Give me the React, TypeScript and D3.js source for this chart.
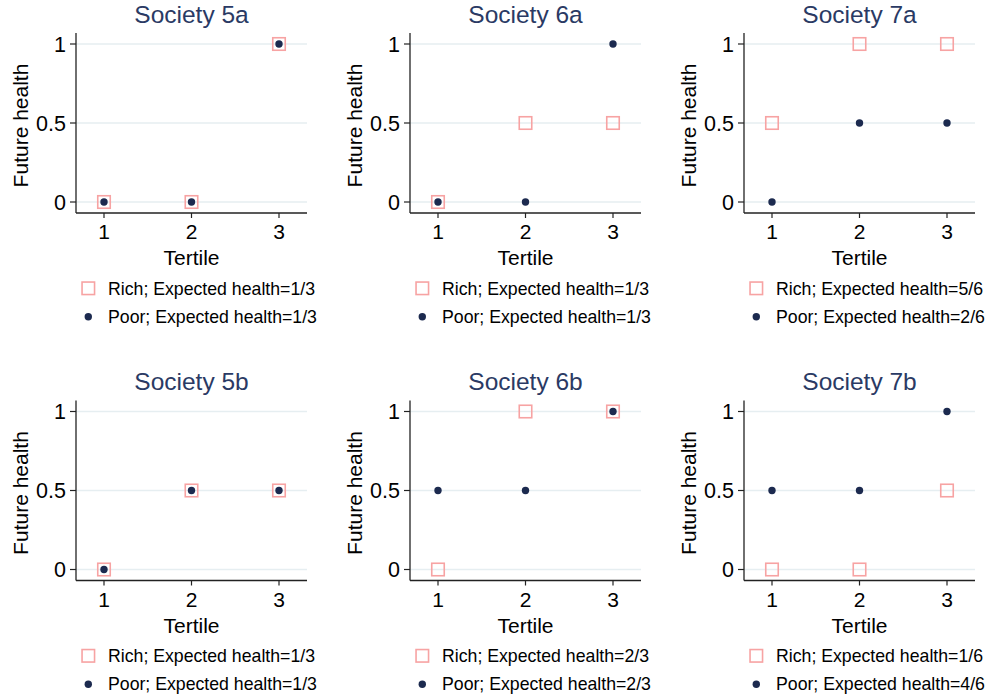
import React from "react";
import * as d3 from "d3";

const tertiles = [1, 2, 3];
const yTicks = [0, 0.5, 1];
const panelTitles = ["Society 5a", "Society 6a", "Society 7a", "Society 5b", "Society 6b", "Society 7b"];
const richValues = [
  [0, 0, 1],
  [0, 0.5, 0.5],
  [0.5, 1, 1],
  [0, 0.5, 0.5],
  [0, 1, 1],
  [0, 0, 0.5],
];
const poorValues = [
  [0, 0, 1],
  [0, 0, 1],
  [0, 0.5, 0.5],
  [0, 0.5, 0.5],
  [0.5, 0.5, 1],
  [0.5, 0.5, 1],
];
const richExpected = ["1/3", "1/3", "5/6", "1/3", "2/3", "1/6"];
const poorExpected = ["1/3", "1/3", "2/6", "1/3", "2/3", "4/6"];

const FONT = "'Liberation Sans', Arial, Helvetica, sans-serif";
const NAVY = "#1c2a4f";
const TITLE = "#2a3a64";
const PINK = "#f7a3a3";
const GRID = "#e6eef1";

const PW = 334;
const PH = 367.5;
const PL = 76;
const PR = 307;
const PT = 33;
const PB = 213;

const x = d3.scaleLinear().domain([0.68, 3.32]).range([PL, PR]);
const y = d3.scaleLinear().domain([-0.0696, 1.0696]).range([PB, PT]);

function Panel({ i }: { i: number }) {
  const col = i % 3;
  const row = Math.floor(i / 3);
  const tx = col * PW;
  const ty = row * PH;
  const sq = 12.5;
  const r = 3.7;
  return (
    <g transform={`translate(${tx},${ty})`} fontFamily={FONT}>
      <text x={(PL + PR) / 2} y={22.5} textAnchor="middle" fontSize={24.5} fill={TITLE}>
        {panelTitles[i]}
      </text>
      {yTicks.map((t) => (
        <line key={"g" + t} x1={PL} x2={PR} y1={y(t)} y2={y(t)} stroke={GRID} strokeWidth={1.3} />
      ))}
      <line x1={PL} x2={PL} y1={PT} y2={PB} stroke="#222" strokeWidth={1.3} />
      <line x1={PL} x2={PR} y1={PB} y2={PB} stroke="#222" strokeWidth={1.3} />
      {yTicks.map((t) => (
        <g key={"y" + t}>
          <line x1={PL - 6} x2={PL} y1={y(t)} y2={y(t)} stroke="#222" strokeWidth={1.2} />
          <text x={PL - 10} y={y(t)} dy="0.36em" textAnchor="end" fontSize={21.5} fill="#000">
            {d3.format("")(t)}
          </text>
        </g>
      ))}
      {tertiles.map((t) => (
        <g key={"x" + t}>
          <line x1={x(t)} x2={x(t)} y1={PB} y2={PB + 5} stroke="#222" strokeWidth={1.2} />
          <text x={x(t)} y={239} textAnchor="middle" fontSize={21} fill="#000">
            {t}
          </text>
        </g>
      ))}
      <text x={(PL + PR) / 2} y={265} textAnchor="middle" fontSize={21} fill="#000">
        Tertile
      </text>
      <text
        transform={`translate(28.3,${(PT + PB) / 2 + 2.5}) rotate(-90)`}
        textAnchor="middle"
        fontSize={21}
        fill="#000"
      >
        Future health
      </text>
      {richValues[i].map((v, k) => (
        <rect
          key={"r" + k}
          x={x(tertiles[k]) - sq / 2}
          y={y(v) - sq / 2}
          width={sq}
          height={sq}
          fill="none"
          stroke={PINK}
          strokeWidth={1.6}
        />
      ))}
      {poorValues[i].map((v, k) => (
        <circle key={"p" + k} cx={x(tertiles[k])} cy={y(v)} r={r} fill={NAVY} />
      ))}
      <rect x={88.3 - sq / 2} y={288.3 - sq / 2} width={sq} height={sq} fill="none" stroke={PINK} strokeWidth={1.6} />
      <text x={108} y={294.5} fontSize={17.7} fill="#000">
        {`Rich; Expected health=${richExpected[i]}`}
      </text>
      <circle cx={88.3} cy={316.7} r={r} fill={NAVY} />
      <text x={108} y={322.8} fontSize={17.7} fill="#000">
        {`Poor; Expected health=${poorExpected[i]}`}
      </text>
    </g>
  );
}

export default function App() {
  React.useEffect(() => {
    document.body.style.margin = "0";
  }, []);
  return (
    <svg
      width={992}
      height={699}
      viewBox="0 0 992 699"
      style={{ position: "absolute", left: 0, top: 0, background: "#fff" }}
    >
      <rect width={992} height={699} fill="#fff" />
      {panelTitles.map((_, i) => (
        <Panel key={i} i={i} />
      ))}
    </svg>
  );
}
